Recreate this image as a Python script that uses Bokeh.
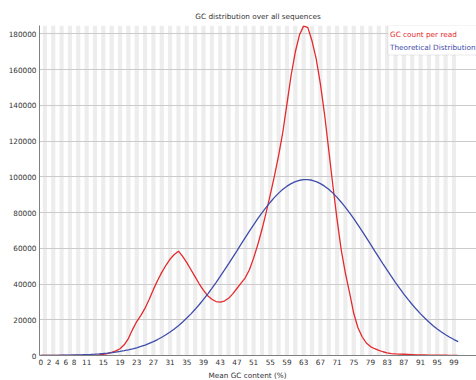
from bokeh.plotting import figure
from bokeh.models import Range1d, FixedTicker, Label, BoxAnnotation, Title, ColumnDataSource
from bokeh.embed import file_html
from bokeh.resources import INLINE

# ---- data ----
gc_percent = list(range(101))
gc_count = [0, 0, 0, 0, 0, 0, 0, 0, 10, 20,
            50, 100, 150, 250, 350, 600, 1000, 1700, 2600, 3800,
            6000, 9500, 14500, 19000, 22500, 26500, 31500, 37000, 42000, 46500,
            50500, 54000, 56500, 58400, 55500, 52000, 48000, 44000, 40000, 36500,
            33500, 31500, 30200, 29900, 30500, 32000, 34500, 37500, 40500, 43500,
            48000, 54500, 62000, 70500, 80000, 90000, 100500, 112000, 125000, 141000,
            157000, 170000, 179500, 184500, 183500, 176000, 166000, 152000, 135000, 115000,
            95000, 76000, 59000, 46000, 35000, 23500, 15500, 10500, 7000, 5000,
            3800, 2900, 2100, 1500, 1100, 900, 800, 700, 600, 500,
            400, 350, 300, 250, 200, 200, 150, 150, 100, 100,
            100]
theoretical = [45, 58, 73, 92, 116, 145, 181, 225, 279, 344,
               423, 517, 630, 765, 925, 1115, 1340, 1600, 1910, 2265,
               2680, 3155, 3700, 4325, 5045, 5850, 6760, 7780, 8925, 10200,
               11600, 13170, 14880, 16700, 18760, 20960, 23310, 25850, 28540, 31380,
               34400, 37550, 40830, 44230, 47730, 51300, 54960, 58600, 62320, 66000,
               69600, 73140, 76560, 79840, 82940, 85800, 88490, 90890, 93000, 94770,
               96200, 97330, 98080, 98450, 98450, 98080, 97330, 96200, 94770, 93000,
               90890, 88490, 85800, 82940, 79840, 76560, 73140, 69600, 66000, 62320,
               58600, 54960, 51300, 47730, 44230, 40830, 37550, 34400, 31380, 28540,
               25850, 23310, 20960, 18760, 16700, 14880, 13170, 11600, 10200, 8925,
               7780]
x_ticks = [0, 2, 4, 6, 8, 11, 15, 19, 23, 27, 31, 35, 39, 43, 47, 51, 55, 59,
           63, 67, 71, 75, 79, 83, 87, 91, 95, 99]
y_ticks = [0, 20000, 40000, 60000, 80000, 100000, 120000, 140000, 160000, 180000]
stripe_cats = [c for c in gc_percent if c % 2 == 1]
series_names = ["GC count per read", "Theoretical Distribution"]
title_text = "GC distribution over all sequences"
x_title = "Mean GC content (%)"

FONT = "DejaVu Sans"
FS = "7.3px"
RED = "#e42a2c"
BLUE = "#3f4dab"

y_max = 184700
p = figure(width=476, height=380, output_backend="svg", toolbar_location=None,
           x_range=Range1d(-0.29, 104.4), y_range=Range1d(0, y_max),
           min_border_left=39, min_border_right=0, min_border_top=25, min_border_bottom=24,
           background_fill_color="white", border_fill_color="white")
p.outline_line_color = None

# alternating stripes
p.vbar(x=stripe_cats, width=1, bottom=0, top=y_max, fill_color="#ededed",
       line_color=None, level="image")

src = ColumnDataSource(dict(x=gc_percent, red=gc_count, blue=theoretical))
p.line("x", "red", source=src, line_color=RED, line_width=1.3)
p.line("x", "blue", source=src, line_color=BLUE, line_width=1.3)

# grid
p.xgrid.visible = False
p.ygrid.ticker = FixedTicker(ticks=y_ticks)
p.ygrid.grid_line_color = "#cbcbcb"
p.ygrid.grid_line_width = 1

# axes
for ax in (p.xaxis[0], p.yaxis[0]):
    ax.major_tick_line_color = None
    ax.minor_tick_line_color = None
    ax.major_tick_out = 0
    ax.major_tick_in = 0
    ax.minor_tick_out = 0
    ax.minor_tick_in = 0
    ax.axis_line_color = "#808080"
    ax.major_label_text_font = FONT
    ax.major_label_text_font_size = FS
    ax.major_label_text_color = "#333333"
    ax.major_label_standoff = 3
p.xaxis.ticker = FixedTicker(ticks=x_ticks)
p.xaxis.major_label_overrides = {t: str(t) for t in x_ticks}
p.yaxis.ticker = FixedTicker(ticks=y_ticks)
p.yaxis.major_label_overrides = {t: str(t) for t in y_ticks}

# titles
p.title.text = title_text
p.title.align = "center"
p.title.text_font = FONT
p.title.text_font_size = FS
p.title.text_font_style = "normal"
p.title.text_color = "#333333"
p.title.standoff = 10

xt = Title(text=x_title, align="left", offset=169, text_font=FONT, text_font_size=FS,
           text_font_style="normal", text_color="#333333", standoff=2)
p.add_layout(xt, "below")

# legend box (right and top edges run to the frame edges) and texts
box = BoxAnnotation(left=83.2, bottom=168200,
                    fill_color="white", fill_alpha=1.0, line_color="#b8b8b8", line_width=1,
                    level="overlay")
p.add_layout(box)
p.add_layout(Label(x=350.5, y=321, x_units="screen", y_units="screen", text=series_names[0],
                   text_font=FONT, text_font_size=FS, text_color=RED, text_baseline="middle",
                   level="overlay"))
p.add_layout(Label(x=350.5, y=308, x_units="screen", y_units="screen", text=series_names[1],
                   text_font=FONT, text_font_size=FS, text_color=BLUE, text_baseline="middle",
                   level="overlay"))

open("out.html", "w").write(file_html(p, INLINE))
